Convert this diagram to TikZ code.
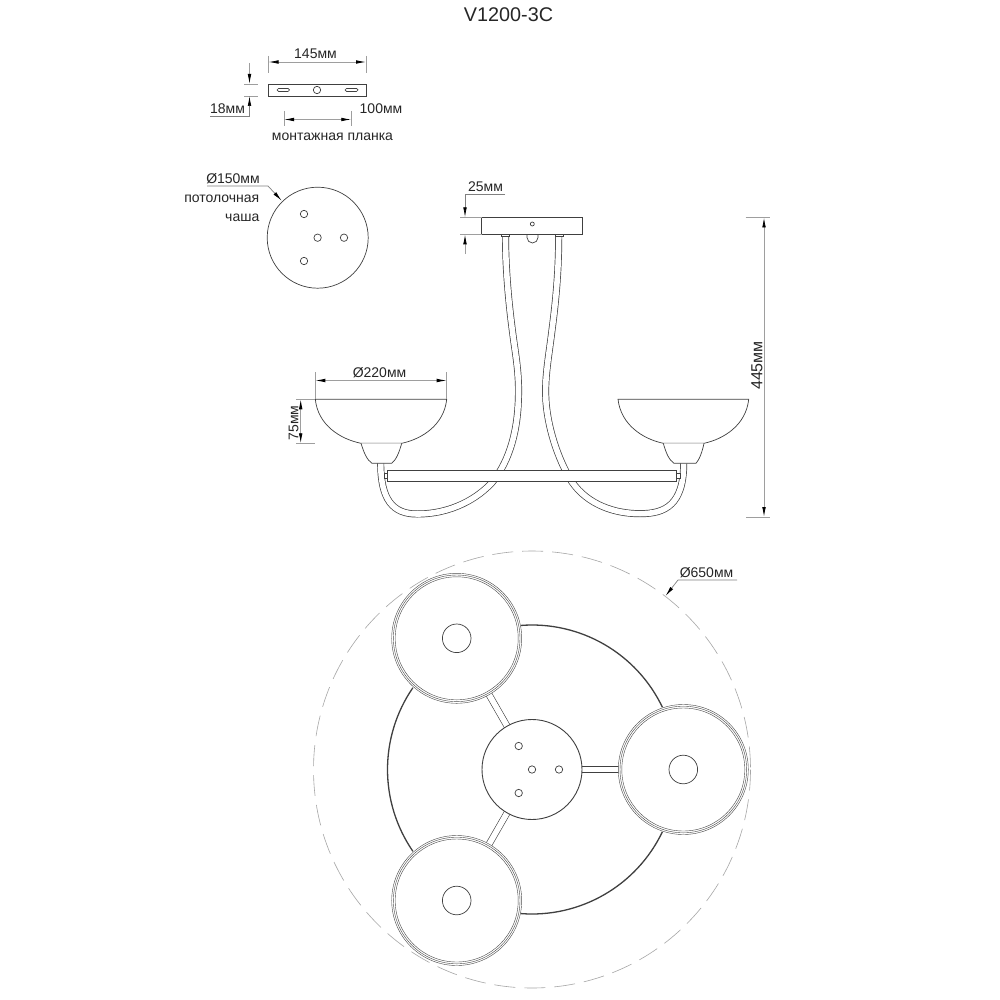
\documentclass[tikz,border=0pt]{standalone}
\usepackage{fontspec}
\setmainfont{Liberation Sans}
\usetikzlibrary{arrows.meta}
\definecolor{dimgray}{gray}{0.62}
\definecolor{inkgray}{gray}{0.25}
\tikzset{
  part/.style={draw=inkgray,line width=0.7pt,fill=white},
  heavy/.style={draw=inkgray,line width=1.3pt},
  pipe/.style={double=white,double distance=5.6pt,line width=0.7pt,draw=inkgray},
  ext/.style={draw=dimgray,line width=0.6pt},
  dimline/.style={draw=dimgray,line width=0.8pt},
  leader/.style={draw=gray,line width=0.7pt},
  tipboth/.style={{Latex[black,length=10pt,width=3.6pt]}-{Latex[black,length=10pt,width=3.6pt]}},
  tipend/.style={-{Latex[black,length=10pt,width=3.6pt]}},
  lab/.style={inner sep=0pt,font=\fontsize{14}{16}\selectfont,text=black!85},
  ring/.style={draw=black!70,line width=0.42pt},
}
\begin{document}
\begin{tikzpicture}[x=1pt,y=-1pt]
\useasboundingbox[fill=white] (0,0) rectangle (1000,1000);
\node[inner sep=0pt,font=\fontsize{19.8}{22}\selectfont,text=black!85] (title) at (508.5,15) {V1200-3C};

% mounting bar
\draw[part] (268.5,84) rectangle (366,96);
\draw[part,rounded corners=1.5pt] (277,88.5) rectangle (289.5,91.5);
\draw[part,rounded corners=1.5pt] (345,88.5) rectangle (358,91.5);
\draw[part] (317,90) circle (3.7);
\draw[ext] (268.5,56) -- (268.5,73);
\draw[ext] (366,56) -- (366,73);
\draw[dimline,tipboth] (268.5,62) -- (366,62);
\node[lab] (d145) at (315.5,54) {145мм};
\draw[ext] (244,84) -- (258,84);
\draw[ext] (244,96) -- (258,96);
\draw[dimline,tipend] (249.5,63) -- (249.5,84);
\draw[leader,tipend] (210,116) -- (249.5,116) -- (249.5,96);
\node[lab] (d18) at (227.5,109) {18мм};
\draw[ext] (284,111) -- (284,126);
\draw[ext] (351.3,111) -- (351.3,126);
\draw[dimline,tipboth] (284,119.5) -- (351.3,119.5);
\node[lab] (d100) at (381,109) {100мм};
\node[lab] (bar) at (332.5,137) {монтажная планка};

% ceiling cup
\draw[part] (317.7,237.7) circle (50.5);
\foreach \p in {(304,214),(317.6,237.7),(344,237.7),(304,261)} \draw[part] \p circle (3.7);
\draw[leader,tipend] (207,186) -- (268,186) -- (281.7,200.7);
\node[lab] (d150) at (233,179) {Ø150мм};
\node[lab,anchor=east] (cup1) at (259.5,199) {потолочная};
\node[lab,anchor=east] (cup2) at (259.5,218) {чаша};

% side view: pipes
\draw[pipe] (505.5,236) .. controls (505.5,270) and (509,305) .. (512.3,330) .. controls (515,352) and (519,370) .. (518.5,395) .. controls (518,430) and (510,460) .. (492.5,482) .. controls (478,498) and (452,514) .. (417,514) .. controls (393,514) and (380.7,500) .. (380.7,463);
\draw[pipe] (558.7,236) .. controls (558.7,270) and (556,300) .. (552,330) .. controls (549,355) and (545,375) .. (545.7,396) .. controls (546.5,425) and (558,460) .. (572,482) .. controls (588,505) and (615,513.7) .. (640,513.7) .. controls (665,513.7) and (683.7,505) .. (683.7,463);

% canopy
\draw[part] (501.7,234.3) rectangle (509.5,236.5);
\draw[part] (555,234.3) rectangle (563,236.5);
\draw[part] (527,234.3) -- (527,237.5) arc[start angle=180,end angle=0,radius=5.5] -- (538,234.3);
\draw[part] (481.7,217.3) rectangle (582.7,234.3);
\draw[part] (532.3,224) circle (2);
\draw[ext] (460,217.3) -- (481.7,217.3);
\draw[ext] (460,234.3) -- (481.7,234.3);
\draw[leader,tipend] (505,194.5) -- (465,194.5) -- (465,217.3);
\draw[dimline,tipend] (465,254) -- (465,234.3);
\node[lab] (d25) at (485.5,187) {25мм};

% bar
\draw[part] (384.7,473) rectangle (387.7,478);
\draw[part] (676.7,473) rectangle (680,478);
\draw[part] (387.7,470.5) rectangle (676.7,481);

% left bowl
\draw[part] (315.3,399.3) -- (446.7,399.3) .. controls (444,425) and (422,439) .. (401.7,443.3) -- (361,443.3) .. controls (340,439) and (318,425) .. cycle;
\draw[part] (361,443.3) .. controls (364,453) and (367,460) .. (372,463.3) -- (391.7,463.3) .. controls (396,460) and (399,453) .. (401.7,443.3);
% right bowl
\draw[part] (618,399.3) -- (748.7,399.3) .. controls (746,425) and (724,439) .. (704,443.3) -- (663.3,443.3) .. controls (643,439) and (621,425) .. cycle;
\draw[part] (663.3,443.3) .. controls (666,453) and (669,460) .. (674,463.3) -- (696,463.3) .. controls (699,460) and (702,453) .. (704,443.3);

% dims for side view
\draw[ext] (315.3,372) -- (315.3,399);
\draw[ext] (446.7,372) -- (446.7,399);
\draw[dimline,tipboth] (315.3,380.5) -- (446.7,380.5);
\node[lab] (d220) at (379.5,372.5) {Ø220мм};
\draw[ext] (296,399.3) -- (315,399.3);
\draw[ext] (296,443.3) -- (315,443.3);
\draw[dimline,tipboth] (300.7,399.3) -- (300.7,443.3);
\node[lab,rotate=90] (d75) at (293.5,423) {75мм};
\draw[ext] (745.7,217.5) -- (769.5,217.5);
\draw[ext] (746,517) -- (770,517);
\draw[dimline,tipboth] (764,217.5) -- (764,517);
\node[inner sep=0pt,font=\fontsize{16}{18}\selectfont,text=black!85,rotate=90] (d445) at (757,365.5) {445мм};

% top view
\draw[draw=black!35,line width=0.6pt,dash pattern=on 21pt off 9pt] (532,769.5) circle (218.5);
\draw[heavy] (532,769.5) ++(25.5:144.5) arc[start angle=25.5,end angle=94.5,radius=144.5];
\draw[heavy] (532,769.5) ++(145.5:144.5) arc[start angle=145.5,end angle=214.5,radius=144.5];
\draw[heavy] (532,769.5) ++(-94.5:144.5) arc[start angle=-94.5,end angle=-25.5,radius=144.5];
\draw[pipe,line width=0.6pt] (532,769.5) -- (683.3,769.5);
\draw[pipe,line width=0.6pt] (532,769.5) -- (456.7,638.3);
\draw[pipe,line width=0.6pt] (532,769.5) -- (456.7,900.5);
\foreach \c in {(683.3,769.5),(456.7,638.3),(456.7,900.5)} {
  \fill[white] \c circle (65);
  \draw[ring] \c circle (65);
  \draw[ring] \c circle (63.3);
  \draw[ring] \c circle (61.5);
  \draw[part] \c circle (14.3);
}
\draw[draw=inkgray,line width=0.9pt,fill=white] (532,769.5) circle (50);
\foreach \p in {(518.7,746),(532,769.5),(559,769.5),(518.7,793)} \draw[part] \p circle (3.7);
\draw[leader,tipend] (737,580) -- (678,580) -- (665.5,596);
\node[lab] (d650) at (706.5,572.5) {Ø650мм};
\end{tikzpicture}
\end{document}
